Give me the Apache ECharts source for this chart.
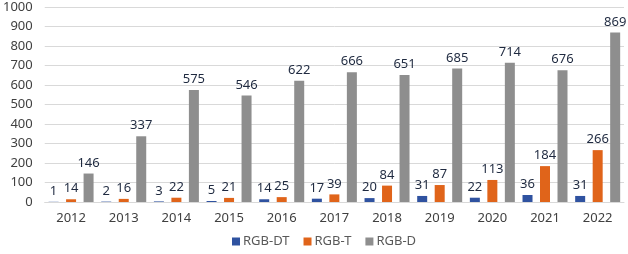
<!DOCTYPE html>
<html><head><meta charset="utf-8">
<script src="https://cdn.jsdelivr.net/npm/echarts@6/dist/echarts.min.js"></script>
<style>html,body{margin:0;padding:0;background:#fff}#c{width:628px;height:254px}</style>
</head><body><div id="c"></div>
<script>
const years = ['2012','2013','2014','2015','2016','2017','2018','2019','2020','2021','2022'];
const rgbDT = [1,2,3,5,14,17,20,31,22,36,31];
const rgbT = [14,16,22,21,25,39,84,87,113,184,266];
const rgbD = [146,337,575,546,622,666,651,685,714,676,869];
const seriesNames = ['RGB-DT','RGB-T','RGB-D'];
const colors = ['#2F52A0','#E0641A','#8E8E8E'];
const font = 'Noto Sans';
const chart = echarts.init(document.getElementById('c'));
const lbl = {show:true, position:'top', distance:4, color:'#1f2a40', fontSize:13, fontFamily:font};
const mk = (name, data, color) => ({
  name, type:'bar', data, barWidth:10, barGap:'75%',
  itemStyle:{color}, label:lbl
});
chart.setOption({
  animation:false,
  textStyle:{fontFamily:font},
  grid:{left:42, right:4, top:7, bottom:52},
  legend:{bottom:1, left:227, icon:'rect', itemWidth:8, itemHeight:8, itemGap:14,
    textStyle:{color:'#595959', fontSize:13, fontFamily:font, padding:[0,0,0,-2]},
    data:seriesNames},
  xAxis:{type:'category', data:years,
    axisLine:{show:true, lineStyle:{color:'#d9d9d9'}}, axisTick:{show:false},
    axisLabel:{color:'#404040', fontSize:13, margin:10, fontFamily:font}},
  yAxis:{type:'value', min:0, max:1000, interval:100,
    axisLine:{show:false}, axisTick:{show:false},
    splitLine:{lineStyle:{color:'#d9d9d9'}},
    axisLabel:{color:'#404040', fontSize:13, margin:12, fontFamily:font, formatter:v=>String(v)}},
  series:[mk(seriesNames[0], rgbDT, colors[0]), mk(seriesNames[1], rgbT, colors[1]), mk(seriesNames[2], rgbD, colors[2])]
});
</script></body></html>
